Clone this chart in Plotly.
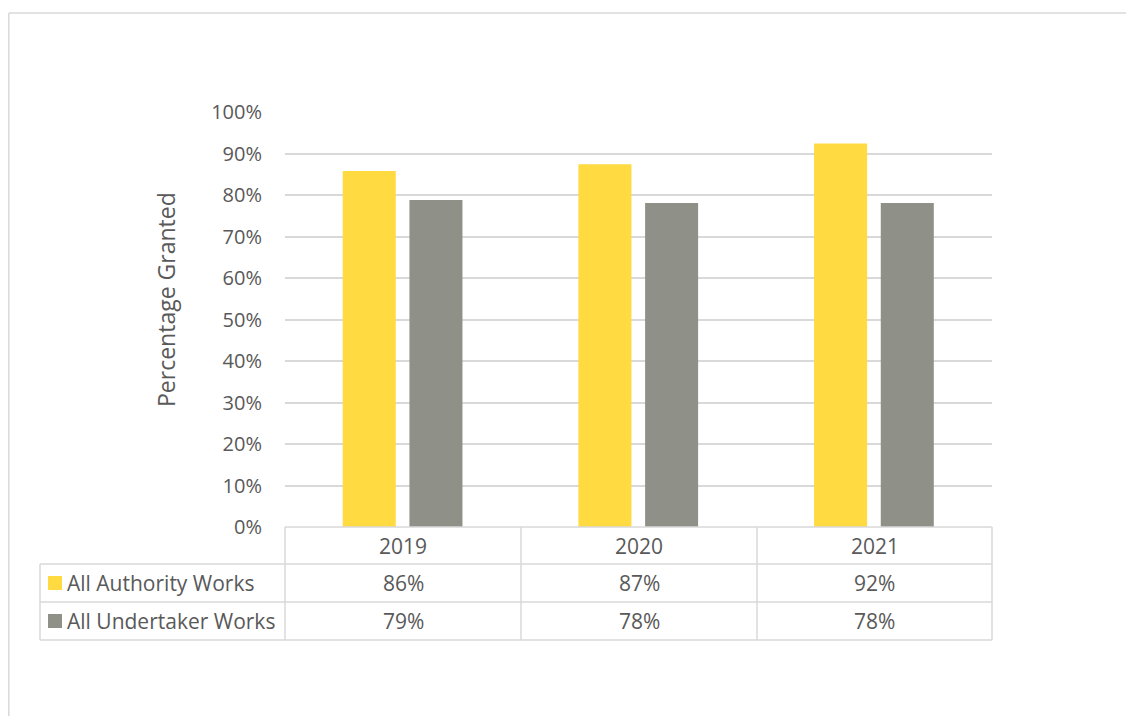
import plotly.graph_objects as go

years = ["2019", "2020", "2021"]
authority = [85.8, 87.4, 92.4]
undertaker = [78.8, 78.1, 78.1]
series_names = ["All Authority Works", "All Undertaker Works"]
colors = ["#FFDA40", "#8F9087"]
y_ticks = list(range(0, 101, 10))

W, H = 1134, 716
OFF = 8  # page body margin
L, R, T, B = 285 - OFF, 992 - OFF, 112 - OFF, 527 - OFF
FONT = "Open Sans"
TXT = "#595959"
GRID = "#D9D9D9"


def px(x):
    return (x - OFF - L) / (R - L)


def py(y):
    return (B - (y - OFF)) / (B - T)


fig = go.Figure()
for name, vals, col, off in [(series_names[0], authority, colors[0], -0.255),
                             (series_names[1], undertaker, colors[1], 0.028)]:
    fig.add_trace(go.Bar(x=years, y=vals, name=name, marker_color=col,
                         marker_line_width=0, width=0.225, offset=off,
                         showlegend=False))

shapes = []
line = dict(color=GRID, width=1.5)
shapes.append(dict(type="line", xref="paper", yref="paper", x0=px(8.8), x1=px(1150), y0=py(13), y1=py(13), line=line))
shapes.append(dict(type="line", xref="paper", yref="paper", x0=px(8.8), x1=px(8.8), y0=py(13), y1=py(730), line=line))
rows_y = [527, 564, 602, 640]
cols_x = [285, 521, 757, 992]
shapes.append(dict(type="line", xref="paper", yref="paper", x0=px(285), x1=px(992), y0=py(527), y1=py(527), line=line))
for ry in rows_y[1:]:
    shapes.append(dict(type="line", xref="paper", yref="paper", x0=px(40), x1=px(992), y0=py(ry), y1=py(ry), line=line))
for cx in cols_x:
    shapes.append(dict(type="line", xref="paper", yref="paper", x0=px(cx), x1=px(cx), y0=py(527), y1=py(640), line=line))
shapes.append(dict(type="line", xref="paper", yref="paper", x0=px(40), x1=px(40), y0=py(564), y1=py(640), line=line))
for i, col in enumerate(colors):
    yc = (rows_y[i + 1] + rows_y[i + 2]) / 2
    shapes.append(dict(type="rect", xref="paper", yref="paper", x0=px(48), x1=px(62),
                       y0=py(yc + 7), y1=py(yc - 7), fillcolor=col, line=dict(width=0)))

annotations = []
tfnt = dict(family=FONT, size=21, color=TXT)
for j, yr in enumerate(years):
    xc = (cols_x[j] + cols_x[j + 1]) / 2
    annotations.append(dict(text=yr, xref="paper", yref="paper", x=px(xc), y=py((rows_y[0] + rows_y[1]) / 2),
                            showarrow=False, font=tfnt, xanchor="center", yanchor="middle"))
    for i, vals in enumerate([authority, undertaker]):
        annotations.append(dict(text=f"{round(vals[j])}%", xref="paper", yref="paper", x=px(xc),
                                y=py((rows_y[i + 1] + rows_y[i + 2]) / 2),
                                showarrow=False, font=tfnt, xanchor="center", yanchor="middle"))
for i, name in enumerate(series_names):
    annotations.append(dict(text=name, xref="paper", yref="paper", x=px(65),
                            y=py((rows_y[i + 1] + rows_y[i + 2]) / 2),
                            showarrow=False, font=tfnt, xanchor="left", yanchor="middle"))
annotations.append(dict(text="Percentage Granted", xref="paper", yref="paper", x=px(166), y=py(300),
                        textangle=-90, showarrow=False, font=dict(family=FONT, size=23, color=TXT),
                        xanchor="center", yanchor="middle"))

fig.update_layout(
    width=W, height=H,
    margin=dict(l=L, r=W - R, t=T, b=H - B, pad=0),
    paper_bgcolor="white", plot_bgcolor="white",
    barmode="overlay",
    shapes=shapes, annotations=annotations,
    xaxis=dict(showticklabels=False, showgrid=False, zeroline=False, showline=False, ticks=""),
    yaxis=dict(range=[0, 100], tickvals=y_ticks, ticktext=[f"{v}%" for v in y_ticks],
               showgrid=True, gridcolor=GRID, gridwidth=1.5, zeroline=False, showline=False,
               ticks="", ticklabelstandoff=22, tickfont=dict(family=FONT, size=20, color=TXT)),
)
fig.write_html("out.html")
